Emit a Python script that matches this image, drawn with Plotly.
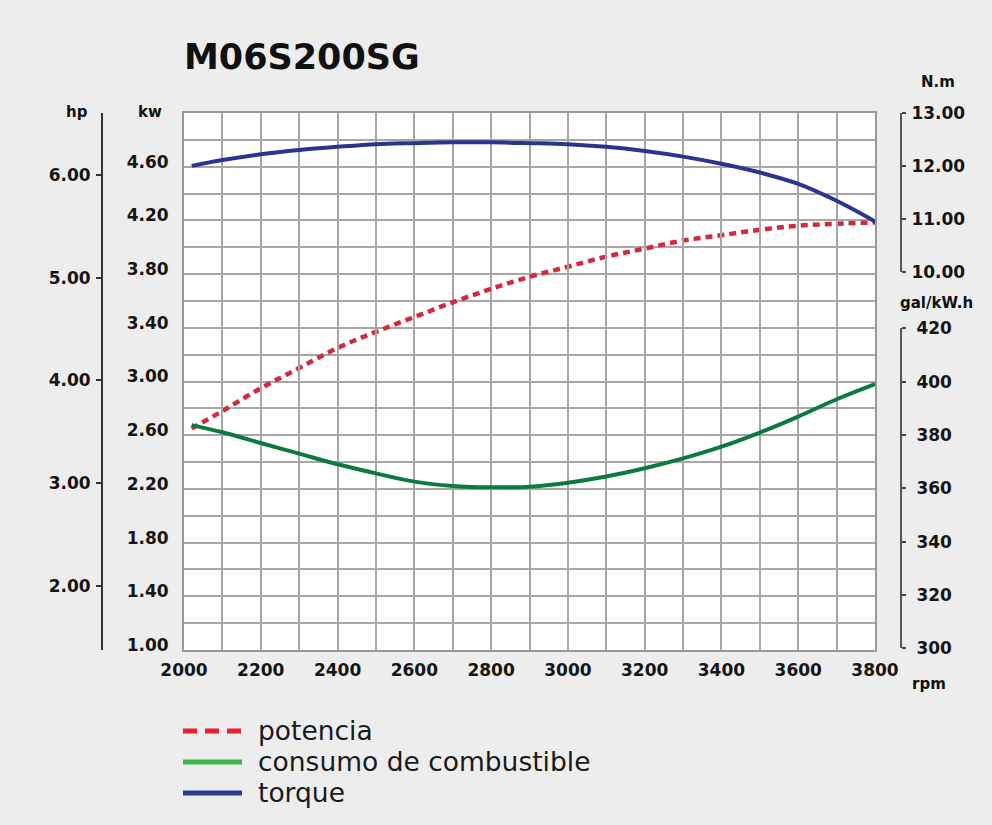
import plotly.graph_objects as go

# ---------------- data ----------------
rpm = [2020, 2100, 2200, 2300, 2400, 2500, 2600, 2700, 2800, 2900,
       3000, 3100, 3200, 3300, 3400, 3500, 3600, 3700, 3800]
potencia_kw = [2.65, 2.78, 2.95, 3.10, 3.25, 3.37, 3.48, 3.59, 3.69, 3.78,
               3.855, 3.93, 3.99, 4.05, 4.09, 4.13, 4.16, 4.175, 4.185]
consumo_gal = [383.7, 381.0, 377.0, 373.0, 369.0, 365.6, 362.5, 360.9, 360.4, 360.6,
               362.1, 364.4, 367.5, 371.2, 375.6, 380.9, 386.9, 393.4, 399.1]
torque_nm = [12.00, 12.11, 12.22, 12.30, 12.36, 12.41, 12.43, 12.445, 12.445, 12.43,
             12.41, 12.36, 12.28, 12.175, 12.04, 11.875, 11.66, 11.34, 10.95]

series_names = ["potencia", "consumo de combustible", "torque"]
title_text = "M06S200SG"

rpm_ticks = [2000, 2200, 2400, 2600, 2800, 3000, 3200, 3400, 3600, 3800]
kw_ticks = [1.00, 1.40, 1.80, 2.20, 2.60, 3.00, 3.40, 3.80, 4.20, 4.60]
hp_ticks = [2.00, 3.00, 4.00, 5.00, 6.00]
torque_ticks = [10.00, 11.00, 12.00, 13.00]
fuel_ticks = [300, 320, 340, 360, 380, 400, 420]

# ---------------- layout helpers (pixel -> paper) ----------------
W, H = 992, 825
ML, MR, MT, MB = 40, 40, 113, 175
PL, PR, PT, PB = 184, 875, 113, 650
BG = "#ededed"


def px(x):
    return (x - ML) / (W - ML - MR)


def py(y):
    return (PB - y) / (PB - PT)


FONT = "DejaVu Sans"
TXT = "#151515"
GRID = "#a7a7a7"
tickfont = dict(family=FONT, size=17, color=TXT, weight="bold")

red_c = "#d22a3c"
green_c = "#0c7a3c"
blue_c = "#2b3590"

fig = go.Figure()

fig.add_trace(go.Scatter(x=rpm, y=potencia_kw, name=series_names[0], mode="lines",
                         line=dict(color=red_c, width=4.5, dash="7px,5px", shape="spline"),
                         xaxis="x", yaxis="y", showlegend=False))
fig.add_trace(go.Scatter(x=rpm, y=consumo_gal, name=series_names[1], mode="lines",
                         line=dict(color=green_c, width=4, shape="spline"),
                         xaxis="x", yaxis="y4", showlegend=False))
fig.add_trace(go.Scatter(x=rpm, y=torque_nm, name=series_names[2], mode="lines",
                         line=dict(color=blue_c, width=4, shape="spline"),
                         xaxis="x", yaxis="y3", showlegend=False))
# empty trace so the hp axis is rendered
fig.add_trace(go.Scatter(x=[], y=[], xaxis="x", yaxis="y2", showlegend=False, hoverinfo="skip"))

fig.update_layout(
    width=W, height=H,
    margin=dict(l=ML, r=MR, t=MT, b=MB),
    paper_bgcolor=BG,
    plot_bgcolor="rgba(0,0,0,0)",
    xaxis=dict(
        domain=[px(PL), px(PR)], range=[2000, 3800],
        tickmode="array", tickvals=rpm_ticks, ticktext=[str(v) for v in rpm_ticks],
        tickfont=tickfont, ticks="", ticklabelstandoff=4,
        showgrid=True, gridcolor=GRID, gridwidth=2,
        minor=dict(tickmode="linear", tick0=2000, dtick=100, showgrid=True,
                   gridcolor=GRID, gridwidth=2, ticks=""),
        showline=True, linecolor="#999999", linewidth=2, mirror=True,
        zeroline=False, fixedrange=True,
    ),
    yaxis=dict(
        domain=[0, 1], range=[1, 5],
        tickmode="array", tickvals=kw_ticks, ticktext=[f"{v:.2f}" for v in kw_ticks],
        tickfont=tickfont, ticks="", ticklabelstandoff=10, ticklabelshift=-5,
        showgrid=True, gridcolor=GRID, gridwidth=2,
        minor=dict(tickmode="linear", tick0=1, dtick=0.2, showgrid=True,
                   gridcolor=GRID, gridwidth=2, ticks=""),
        showline=True, linecolor="#999999", linewidth=2, mirror=True,
        zeroline=False, fixedrange=True,
    ),
    yaxis2=dict(
        overlaying="y", side="left", anchor="free", position=px(102),
        range=[1.377, 6.603],
        tickmode="array", tickvals=hp_ticks, ticktext=[f"{v:.2f}" for v in hp_ticks],
        tickfont=tickfont, ticks="outside", ticklen=5, tickwidth=2, tickcolor="#333",
        ticklabelstandoff=2,
        showgrid=False, showline=True, linecolor="#333333", linewidth=2,
        zeroline=False, fixedrange=True,
    ),
    yaxis3=dict(
        domain=[py(271.7), 1.0], range=[10, 13], side="right", anchor="free",
        position=px(901),
        tickmode="array", tickvals=torque_ticks, ticktext=[f"{v:.2f}" for v in torque_ticks],
        tickfont=tickfont, ticks="outside", ticklen=4, tickwidth=2, tickcolor="#444",
        ticklabelstandoff=2,
        showgrid=False, showline=True, linecolor="#555555", linewidth=2,
        zeroline=False, fixedrange=True,
    ),
    yaxis4=dict(
        domain=[py(648.3), py(328.3)], range=[300, 420], side="right", anchor="free",
        position=px(901),
        tickmode="array", tickvals=fuel_ticks, ticktext=[str(v) for v in fuel_ticks],
        tickfont=tickfont, ticks="outside", ticklen=4, tickwidth=2, tickcolor="#444",
        ticklabelstandoff=7,
        showgrid=False, showline=True, linecolor="#555555", linewidth=2,
        zeroline=False, fixedrange=True,
    ),
    showlegend=False,
)

# white plotting background beneath the grid
fig.add_shape(type="rect", xref="paper", yref="paper", x0=px(PL), x1=px(PR), y0=0, y1=1,
              fillcolor="white", line=dict(width=0), layer="below")


# title and axis unit labels
def label(text, x, y, size, xanchor="center", family=FONT):
    fig.add_annotation(text=text, x=px(x), y=py(y), xref="paper", yref="paper",
                       xanchor=xanchor, yanchor="middle", showarrow=False,
                       font=dict(family=family, size=size, color="#111111", weight="bold"))


label(title_text, 182, 57, 35, xanchor="left")
label("hp", 77, 112, 15)
label("kw", 150, 112, 15)
label("N.m", 938, 82, 15)
label("gal/kW.h", 936, 303, 15)
label("rpm", 929, 684, 15)

# legend (drawn manually to match the long key lines)
legend_y = [731, 762, 793]
legend_col = ["#e3232f", "#3db54a", "#2e3a8c"]
legend_dash = ["14px,8px", "solid", "solid"]
for name, yy, col, dsh in zip(series_names, legend_y, legend_col, legend_dash):
    fig.add_shape(type="line", xref="paper", yref="paper", x0=px(183), x1=px(242),
                  y0=py(yy), y1=py(yy), line=dict(color=col, width=5, dash=dsh))
    fig.add_annotation(text=name, x=px(256), y=py(yy - 1), xref="paper", yref="paper",
                       xanchor="left", yanchor="middle", showarrow=False,
                       font=dict(family=FONT, size=26.5, color="#1a1a1a"))

fig.write_html(
    "out.html",
    config={"displayModeBar": False},
    post_script="document.body.style.margin='0';document.body.style.background='%s';" % BG,
)
